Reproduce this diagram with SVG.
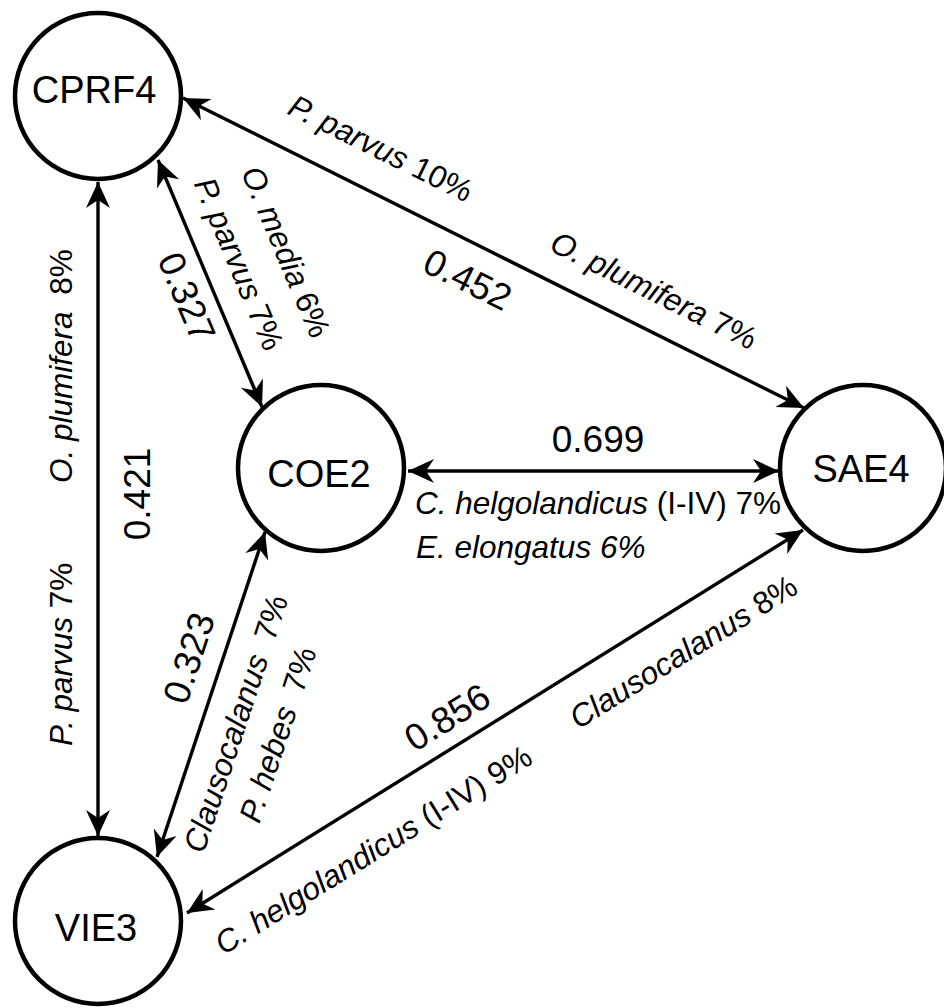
<svg xmlns="http://www.w3.org/2000/svg" width="944" height="1008" viewBox="0 0 944 1008">
<style>
text { font-family: "Liberation Sans", Arial, Helvetica, sans-serif; fill: #000; }
.node circle { fill: #fff; stroke: #000; stroke-width: 4.5; }
.node text { font-size: 38px; text-anchor: middle; }
.num { font-size: 37px; text-anchor: middle; }
.sp { font-size: 31.5px; }
.mid { text-anchor: middle; }
.it { font-style: italic; }
.edge { stroke: #000; stroke-width: 3.4; fill: none; marker-start: url(#ah); marker-end: url(#ah); }
</style>
<defs>
<marker id="ah" markerUnits="userSpaceOnUse" viewBox="-30 -15 35 30" refX="0" refY="0" markerWidth="35" markerHeight="30" orient="auto-start-reverse" overflow="visible">
<path d="M0,0 L-26,-12 L-18,0 L-26,12 Z" fill="#000"/>
</marker>
</defs>

<g id="CPRF4" class="node"><circle cx="98" cy="96" r="83"/><text x="94" y="103">CPRF4</text></g>
<g id="COE2" class="node"><circle cx="321" cy="468" r="83"/><text x="319" y="487">COE2</text></g>
<g id="SAE4" class="node"><circle cx="863" cy="468" r="83"/><text x="861" y="482">SAE4</text></g>
<g id="VIE3" class="node"><circle cx="98" cy="921" r="83"/><text x="96" y="941">VIE3</text></g>

<g id="connectors">
<line class="edge" x1="98" y1="182" x2="98" y2="836"/>
<line class="edge" x1="183" y1="98" x2="804" y2="408"/>
<line class="edge" x1="158" y1="160" x2="262" y2="407"/>
<line class="edge" x1="408" y1="471" x2="779" y2="471"/>
<line class="edge" x1="265" y1="532" x2="157" y2="857"/>
<line class="edge" x1="803" y1="530" x2="187" y2="913"/>
</g>

<g id="labels">
<text class="sp mid" transform="translate(376,158) rotate(26.45)"><tspan class="it">P. parvus</tspan> 10%</text>
<text class="num" transform="translate(462,291) rotate(26.45)">0.452</text>
<text class="sp mid" transform="translate(649,300) rotate(26.45)"><tspan class="it">O. plumifera</tspan> 7%</text>

<text class="sp" transform="translate(72,483) rotate(-90)"><tspan class="it">O. plumifera</tspan><tspan dx="8"> 8%</tspan></text>
<text class="sp" transform="translate(72,746) rotate(-90)"><tspan class="it">P. parvus</tspan> 7%</text>
<text class="num" transform="translate(150,494) rotate(-90)">0.421</text>

<text class="num" transform="translate(175,302) rotate(67.2)">0.327</text>
<text class="sp mid" transform="translate(276,256) rotate(67.2)"><tspan class="it">O. media</tspan> 6%</text>
<text class="sp mid" transform="translate(229,268) rotate(67.2)"><tspan class="it">P. parvus</tspan> 7%</text>

<text class="num" transform="translate(201,662) rotate(-71.6)">0.323</text>
<text class="sp mid" transform="translate(246,727) rotate(-71.6)"><tspan class="it">Clausocalanus</tspan><tspan dx="8"> 7%</tspan></text>
<text class="sp mid" transform="translate(288,738) rotate(-71.6)"><tspan class="it">P. hebes</tspan><tspan dx="8"> 7%</tspan></text>

<text class="num" transform="translate(454,728) rotate(-31.8)">0.856</text>
<text class="sp mid" transform="translate(379,859) rotate(-31.8)"><tspan class="it">C. helgolandicus</tspan> (I-IV) 9%</text>
<text class="sp mid" transform="translate(689,661) rotate(-31.8)"><tspan class="it">Clausocalanus</tspan> 8%</text>

<text class="num" x="598" y="452">0.699</text>
<text class="sp" x="415" y="514"><tspan class="it">C. helgolandicus</tspan> (I-IV) 7%</text>
<text class="sp it" x="416" y="558">E. elongatus 6%</text>
</g>
</svg>
